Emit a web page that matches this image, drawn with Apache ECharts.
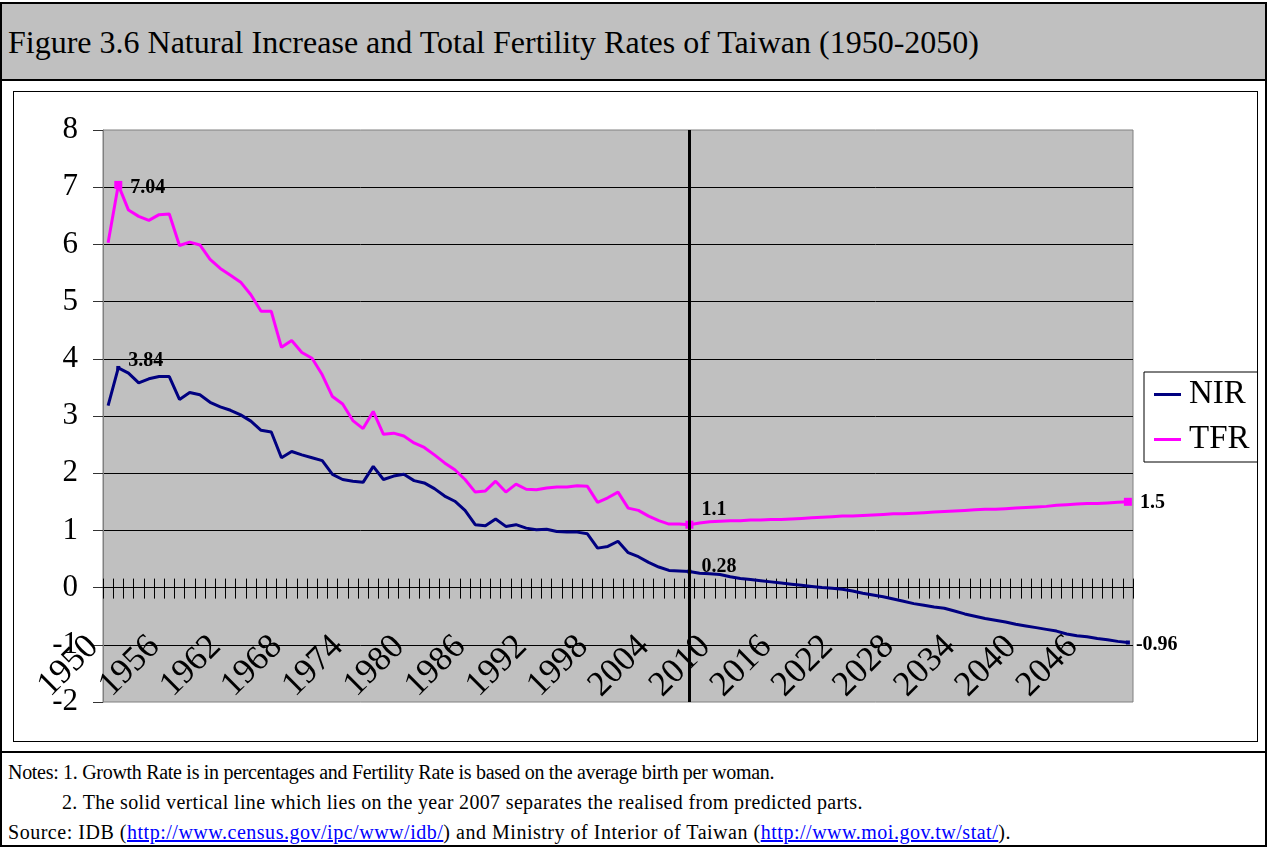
<!DOCTYPE html>
<html>
<head>
<meta charset="utf-8">
<script src="https://cdn.jsdelivr.net/npm/echarts@6/dist/echarts.min.js"></script>
<style>
  html, body { margin:0; padding:0; background:#fff; }
  #page { position:relative; width:1267px; height:847px; overflow:hidden; background:#fff; font-family:'Liberation Serif','Times New Roman',serif; color:#000; }
  .abs { position:absolute; }
  .note { position:absolute; font-size:20px; line-height:20px; white-space:nowrap; }
  .note a { color:#0000ff; text-decoration:underline; }
</style>
</head>
<body>
<div id="page">
  <div class="abs" style="left:0;top:2px;width:1267px;height:845px;box-sizing:border-box;border:2px solid #000;"></div>
  <div class="abs" style="left:2px;top:4px;width:1263px;height:75px;background:#c0c0c0;border-bottom:2px solid #000;"></div>
  <div class="abs" style="left:8px;top:26px;font-size:32px;line-height:32px;white-space:nowrap;">Figure 3.6 Natural Increase and Total Fertility Rates of Taiwan (1950-2050)</div>
  <div class="abs" style="left:13px;top:91px;width:1245px;height:651px;box-sizing:border-box;border:1px solid #000;"></div>
  <div class="abs" style="left:0;top:751px;width:1267px;height:2px;background:#000;"></div>
  <div class="note" style="left:8px;top:762px;letter-spacing:-0.3px;">Notes: 1. Growth Rate is in percentages and Fertility Rate is based on the average birth per woman.</div>
  <div class="note" style="left:62px;top:792px;letter-spacing:0.34px;">2. The solid vertical line which lies on the year 2007 separates the realised from predicted parts.</div>
  <div class="note" style="left:8px;top:822px;letter-spacing:0.52px;">Source: IDB (<a>http://www.census.gov/ipc/www/idb/</a>) and Ministry of Interior of Taiwan (<a>http://www.moi.gov.tw/stat/</a>).</div>
  <div id="chart" class="abs" style="left:0;top:0;width:1267px;height:847px;"></div>
</div>
<script>
// ---- data ----
const startYear = 1950;
const endYear = 2050;
const years = [];
for (let y = startYear; y <= endYear; y++) years.push(String(y));

const seriesNames = ['NIR', 'TFR'];

// Natural increase rate (%), 1950-2050
const nirValues = [
  3.18, 3.84, 3.75, 3.58, 3.65, 3.69, 3.69, 3.29, 3.41, 3.37,   // 1950-1959
  3.24, 3.16, 3.10, 3.02, 2.91, 2.75, 2.72, 2.27, 2.38, 2.32,   // 1960-1969
  2.27, 2.22, 1.98, 1.89, 1.86, 1.84, 2.12, 1.89, 1.95, 1.98,   // 1970-1979
  1.87, 1.83, 1.73, 1.60, 1.51, 1.35, 1.10, 1.08, 1.20, 1.07,   // 1980-1989
  1.10, 1.04, 1.01, 1.02, 0.98, 0.97, 0.97, 0.94, 0.69, 0.72,   // 1990-1999
  0.81, 0.61, 0.54, 0.44, 0.36, 0.30, 0.29, 0.28, 0.25, 0.24,   // 2000-2009
  0.23, 0.19, 0.16, 0.14, 0.12, 0.10, 0.08, 0.06, 0.04, 0.02,   // 2010-2019
  0.00, -0.01, -0.03, -0.06, -0.10, -0.13, -0.16, -0.20, -0.24, -0.28, // 2020-2029
  -0.31, -0.34, -0.36, -0.41, -0.46, -0.50, -0.54, -0.57, -0.60, -0.64, // 2030-2039
  -0.67, -0.70, -0.73, -0.76, -0.81, -0.84, -0.86, -0.89, -0.91, -0.94, // 2040-2049
  -0.96                                                              // 2050
];

// Total fertility rate (births per woman), 1950-2050
const tfrValues = [
  6.03, 7.04, 6.60, 6.49, 6.42, 6.52, 6.53, 5.98, 6.04, 5.99,   // 1950-1959
  5.74, 5.58, 5.46, 5.34, 5.12, 4.83, 4.83, 4.20, 4.32, 4.11,   // 1960-1969
  4.01, 3.72, 3.34, 3.21, 2.92, 2.78, 3.08, 2.68, 2.70, 2.65,   // 1970-1979
  2.53, 2.45, 2.32, 2.18, 2.06, 1.89, 1.67, 1.69, 1.86, 1.67,   // 1980-1989
  1.81, 1.72, 1.71, 1.74, 1.76, 1.76, 1.78, 1.77, 1.49, 1.57,   // 1990-1999
  1.67, 1.39, 1.35, 1.25, 1.17, 1.11, 1.11, 1.10, 1.13, 1.15,   // 2000-2009
  1.16, 1.17, 1.17, 1.18, 1.18, 1.19, 1.19, 1.20, 1.21, 1.22,   // 2010-2019
  1.23, 1.24, 1.25, 1.25, 1.26, 1.27, 1.28, 1.29, 1.29, 1.30,   // 2020-2029
  1.31, 1.32, 1.33, 1.34, 1.35, 1.36, 1.37, 1.37, 1.38, 1.39,   // 2030-2039
  1.40, 1.41, 1.42, 1.44, 1.45, 1.46, 1.47, 1.47, 1.48, 1.49,   // 2040-2049
  1.50                                                          // 2050
];

const yMin = -2, yMax = 8, yStep = 1;
const labelledYears = ['1951', '2007', '2050'];
const dividerYear = '2007';

// ---- chart ----
const FONT = "'Liberation Serif', 'Times New Roman', serif";
const chart = echarts.init(document.getElementById('chart'), null, { renderer: 'canvas' });

const GRID = { left: 103, right: 134, top: 130, bottom: 145 };
const plotH = 847 - GRID.top - GRID.bottom;
// place the category axis where the value axis equals zero
const zeroFromBottom = plotH * (0 - yMin) / (yMax - yMin);
const zeroFromTop = plotH * (yMax - 0) / (yMax - yMin);

const labelStyle = {
  NIR: {
    '1951': { distance: 0, offset: [8, -7] },
    '2007': { distance: 10, offset: [0, -5] },
    '2050': { distance: 6, offset: [0, 2] }
  },
  TFR: {
    '1951': { distance: 8, offset: [0, 3] },
    '2007': { distance: 8, offset: [0, -15] },
    '2050': { distance: 8, offset: [0, 1] }
  }
};

function buildData(name, values) {
  return values.map((v, i) => {
    const yr = years[i];
    if (labelledYears.indexOf(yr) < 0) return v;
    const cfg = labelStyle[name][yr];
    return {
      value: v,
      label: {
        show: true,
        position: 'right',
        distance: cfg.distance,
        offset: cfg.offset,
        formatter: String(v),
        fontFamily: FONT,
        fontWeight: 'bold',
        fontSize: 20,
        color: '#000'
      }
    };
  });
}

function markerSize(size) {
  return function (val, params) {
    return labelledYears.indexOf(years[params.dataIndex]) >= 0 ? size : 0;
  };
}

const option = {
  animation: false,
  grid: {
    left: GRID.left, right: GRID.right, top: GRID.top, bottom: GRID.bottom,
    show: true, backgroundColor: '#c0c0c0', borderColor: '#808080', borderWidth: 1,
    containLabel: false
  },
  legend: {
    data: seriesNames.map(n => ({ name: n, icon: 'rect' })),
    orient: 'vertical',
    left: 1144, top: 372,
    width: 111,
    padding: [6, 8, 6, 10],
    itemWidth: 27, itemHeight: 3, itemGap: 12,
    backgroundColor: '#fff', borderColor: '#000', borderWidth: 1,
    textStyle: { fontFamily: FONT, fontSize: 33, color: '#000', padding: [0, 0, 0, 3] }
  },
  xAxis: [
    {
      type: 'category', data: years, boundaryGap: true, position: 'bottom',
      offset: -zeroFromBottom,
      axisLine: { show: true, onZero: false, lineStyle: { color: '#000', width: 1 } },
      axisTick: { show: true, interval: 0, inside: false, length: 11, lineStyle: { color: '#000', width: 1 } },
      axisLabel: {
        show: true, interval: 5, rotate: 45, margin: 39, padding: [0, 21, 0, 0],
        fontFamily: FONT, fontSize: 35, color: '#000'
      },
      splitLine: { show: false }
    },
    {
      type: 'category', data: years, boundaryGap: true, position: 'top',
      offset: -zeroFromTop,
      axisLine: { show: false, onZero: false },
      axisTick: { show: true, interval: 0, inside: false, length: 9, lineStyle: { color: '#000', width: 1 } },
      axisLabel: { show: false },
      splitLine: { show: false }
    }
  ],
  yAxis: {
    type: 'value', min: yMin, max: yMax, interval: yStep,
    axisLine: { show: true, lineStyle: { color: '#808080', width: 1 } },
    axisTick: { show: true, length: 10, lineStyle: { color: '#333', width: 1 } },
    axisLabel: { margin: 25, fontFamily: FONT, fontSize: 31, color: '#000' },
    splitLine: { show: true, showMinLine: false, showMaxLine: false, lineStyle: { color: '#000', width: 1 } }
  },
  series: [
    {
      name: 'NIR', type: 'line', xAxisIndex: 0,
      data: buildData('NIR', nirValues),
      showSymbol: true, showAllSymbol: true, symbol: 'rect', symbolSize: markerSize(4),
      lineStyle: { color: '#000080', width: 3 },
      itemStyle: { color: '#000080' },
      z: 3
    },
    {
      name: 'TFR', type: 'line', xAxisIndex: 0,
      data: buildData('TFR', tfrValues),
      showSymbol: true, showAllSymbol: true, symbol: 'rect', symbolSize: markerSize(8),
      lineStyle: { color: '#ff00ff', width: 3 },
      itemStyle: { color: '#ff00ff' },
      z: 3,
      markLine: {
        silent: true, symbol: 'none', label: { show: false },
        lineStyle: { color: '#000', width: 3, type: 'solid' },
        data: [{ xAxis: dividerYear }],
        z: 4
      }
    }
  ]
};
chart.setOption(option);
</script>
</body>
</html>
